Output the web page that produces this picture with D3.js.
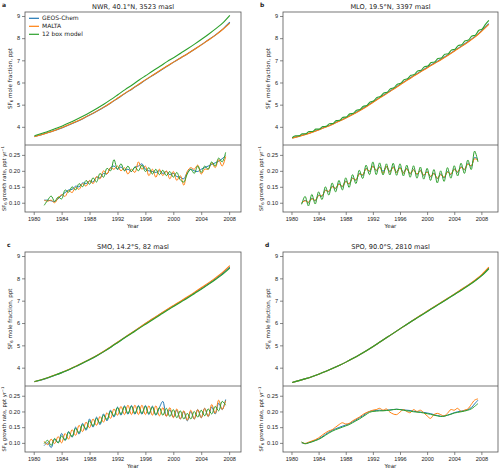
<!DOCTYPE html>
<html><head><meta charset="utf-8">
<script src="https://cdn.jsdelivr.net/npm/d3@7"></script>
<style>body{margin:0;background:#fff}svg{font-family:"DejaVu Sans",sans-serif}</style>
</head><body><svg id="chart" width="500" height="469"></svg>
<script>
// ---------- DATA ----------
const seriesNames = ["GEOS-Chem", "MALTA", "12 box model"];
const seriesColors = ["#1f77b4", "#ff7f0e", "#2ca02c"];
const xTicks = [1980, 1984, 1988, 1992, 1996, 2000, 2004, 2008];
const moleTicks = [4, 5, 6, 7, 8, 9];
const growthTicks = [0.10, 0.15, 0.20, 0.25];

const yearsShort = [1980.1,1981.1,1982.1,1983.1,1984.1,1985.1,1986.1,1987.1,1988.1,1989.1,
  1990.1,1991.1,1992.1,1993.1,1994.1,1995.1,1996.1,1997.1,1998.1,1999.1,
  2000.1,2001.1,2002.1,2003.1,2004.1,2005.1,2006.1,2007.1,2008.1];
const yearsLong = [1980.1,1981.1,1982.1,1983.1,1984.1,1985.1,1986.1,1987.1,1988.1,1989.1,
  1990.1,1991.1,1992.1,1993.1,1994.1,1995.1,1996.1,1997.1,1998.1,1999.1,
  2000.1,2001.1,2002.1,2003.1,2004.1,2005.1,2006.1,2007.1,2008.1,2009.1];
const yearsHalfLong = [1980.1,1980.6,1981.1,1981.6,1982.1,1982.6,1983.1,1983.6,1984.1,1984.6,
  1985.1,1985.6,1986.1,1986.6,1987.1,1987.6,1988.1,1988.6,1989.1,1989.6,
  1990.1,1990.6,1991.1,1991.6,1992.1,1992.6,1993.1,1993.6,1994.1,1994.6,
  1995.1,1995.6,1996.1,1996.6,1997.1,1997.6,1998.1,1998.6,1999.1,1999.6,
  2000.1,2000.6,2001.1,2001.6,2002.1,2002.6,2003.1,2003.6,2004.1,2004.6,
  2005.1,2005.6,2006.1,2006.6,2007.1,2007.6,2008.1,2008.6,2009.1];
const growthYears = [1981.5,1982,1982.5,1983,1983.5,1984,1984.5,1985,1985.5,1986,
  1986.5,1987,1987.5,1988,1988.5,1989,1989.5,1990,1990.5,1991,
  1991.5,1992,1992.5,1993,1993.5,1994,1994.5,1995,1995.5,1996,
  1996.5,1997,1997.5,1998,1998.5,1999,1999.5,2000,2000.5,2001,
  2001.5,2002,2002.5,2003,2003.5,2004,2004.5,2005,2005.5,2006,
  2006.5,2007,2007.5];

// NWR
const nwrMoleGeos = [3.56,3.64,3.74,3.85,3.96,4.09,4.23,4.38,4.54,4.71,4.89,5.09,5.30,5.51,5.71,5.92,6.13,6.33,6.53,6.73,6.93,7.12,7.31,7.51,7.72,7.94,8.16,8.41,8.72];
const nwrMoleMalta = [3.55,3.64,3.74,3.85,3.97,4.10,4.24,4.39,4.55,4.72,4.90,5.10,5.31,5.52,5.72,5.93,6.14,6.34,6.54,6.74,6.93,7.12,7.31,7.51,7.72,7.93,8.15,8.40,8.68];
const nwrMoleBox = [3.60,3.70,3.80,3.92,4.04,4.18,4.33,4.49,4.66,4.84,5.03,5.24,5.46,5.68,5.89,6.11,6.32,6.53,6.73,6.94,7.13,7.33,7.53,7.74,7.96,8.19,8.43,8.69,9.03];
const nwrGrowthGeos = [0.108,0.108,0.106,0.104,0.112,0.124,0.132,0.140,0.142,0.152,
  0.150,0.162,0.160,0.168,0.165,0.180,0.178,0.192,0.190,0.210,
  0.215,0.205,0.212,0.202,0.205,0.198,0.212,0.215,0.222,0.205,
  0.200,0.198,0.195,0.200,0.192,0.198,0.188,0.192,0.182,0.180,
  0.175,0.195,0.205,0.200,0.198,0.205,0.210,0.215,0.220,0.225,
  0.230,0.238,0.248];
const nwrGrowthMalta = [0.108,0.105,0.108,0.100,0.115,0.125,0.120,0.138,0.132,0.148,
  0.142,0.160,0.152,0.170,0.160,0.182,0.175,0.200,0.190,0.210,
  0.205,0.215,0.200,0.210,0.190,0.205,0.195,0.228,0.205,0.215,
  0.185,0.205,0.180,0.205,0.185,0.200,0.175,0.198,0.170,0.185,
  0.155,0.198,0.210,0.205,0.218,0.190,0.205,0.205,0.225,0.210,
  0.235,0.215,0.245];
const nwrGrowthBox = [0.092,0.108,0.121,0.104,0.118,0.112,0.140,0.133,0.150,0.140,
  0.160,0.150,0.170,0.158,0.178,0.165,0.192,0.180,0.208,0.200,
  0.235,0.205,0.222,0.200,0.215,0.198,0.212,0.200,0.218,0.198,
  0.210,0.190,0.205,0.188,0.202,0.185,0.198,0.180,0.195,0.172,
  0.165,0.190,0.205,0.192,0.215,0.195,0.215,0.205,0.228,0.215,
  0.240,0.228,0.258];

// MLO
const mloMoleGeos = [3.50,3.58,3.67,3.77,3.88,4.00,4.13,4.27,4.42,4.58,4.75,4.94,5.14,5.34,5.53,5.73,5.93,6.13,6.32,6.51,6.70,6.88,7.06,7.25,7.45,7.65,7.86,8.08,8.35,8.66];
const mloMoleMalta = [3.49,3.57,3.66,3.76,3.87,3.99,4.12,4.26,4.41,4.57,4.74,4.92,5.12,5.32,5.51,5.71,5.91,6.11,6.30,6.49,6.68,6.86,7.04,7.23,7.43,7.63,7.84,8.06,8.33,8.62];
const mloMoleBox = [3.51,3.60,3.592,3.688,3.684,3.786,3.786,3.894,3.898,4.012,
  4.02,4.14,4.152,4.278,4.294,4.426,4.446,4.584,4.608,4.752,
  4.78,4.93,4.962,5.123,5.164,5.326,5.366,5.524,5.558,5.722,
  5.76,5.925,5.962,6.128,6.164,6.326,6.356,6.519,6.548,6.712,
  6.74,6.90,6.922,7.083,7.104,7.271,7.296,7.469,7.498,7.672,
  7.70,7.88,7.912,8.098,8.134,8.346,8.406,8.619,8.80];
const mloGrowthGeos = [0.098,0.108,0.100,0.114,0.106,0.124,0.120,0.140,0.134,0.152,
  0.144,0.160,0.150,0.168,0.158,0.178,0.170,0.192,0.186,0.208,
  0.198,0.216,0.200,0.213,0.198,0.212,0.198,0.213,0.197,0.211,
  0.195,0.208,0.190,0.205,0.188,0.202,0.185,0.198,0.181,0.193,
  0.175,0.190,0.178,0.198,0.188,0.206,0.195,0.213,0.203,0.223,
  0.214,0.242,0.236];
const mloGrowthMalta = [0.100,0.106,0.102,0.112,0.108,0.122,0.122,0.138,0.136,0.150,
  0.146,0.158,0.152,0.166,0.160,0.176,0.172,0.190,0.188,0.206,
  0.200,0.214,0.202,0.211,0.192,0.214,0.196,0.211,0.195,0.209,
  0.193,0.206,0.192,0.203,0.190,0.200,0.187,0.196,0.183,0.191,
  0.177,0.188,0.180,0.196,0.190,0.204,0.197,0.211,0.205,0.221,
  0.216,0.238,0.232];
const mloGrowthBox = [0.095,0.120,0.090,0.126,0.096,0.134,0.110,0.150,0.124,0.162,
  0.134,0.170,0.140,0.178,0.148,0.188,0.160,0.202,0.176,0.218,
  0.188,0.228,0.188,0.225,0.187,0.222,0.187,0.224,0.186,0.222,
  0.184,0.218,0.180,0.216,0.177,0.212,0.174,0.208,0.170,0.204,
  0.162,0.200,0.167,0.210,0.177,0.216,0.184,0.224,0.192,0.234,
  0.204,0.262,0.228];

// SMO
const smoMoleGeos = [3.37,3.45,3.55,3.67,3.79,3.92,4.06,4.22,4.38,4.55,4.74,4.94,5.15,5.36,5.57,5.78,5.99,6.19,6.39,6.59,6.78,6.97,7.16,7.36,7.56,7.77,7.99,8.23,8.50];
const smoMoleMalta = [3.37,3.46,3.565,3.68,3.80,3.93,4.075,4.23,4.39,4.56,4.745,4.95,5.16,5.37,5.575,5.79,6.00,6.20,6.405,6.61,6.80,6.99,7.185,7.39,7.60,7.81,8.035,8.28,8.57];
const smoMoleBox = [3.38,3.46,3.56,3.67,3.79,3.92,4.07,4.22,4.38,4.55,4.73,4.93,5.14,5.35,5.55,5.76,5.96,6.16,6.36,6.56,6.75,6.94,7.13,7.33,7.53,7.74,7.96,8.19,8.46];
const smoGrowthGeos = [0.092,0.100,0.085,0.112,0.100,0.130,0.108,0.136,0.118,0.150,
  0.128,0.162,0.140,0.176,0.150,0.182,0.158,0.192,0.170,0.204,
  0.182,0.214,0.188,0.218,0.191,0.219,0.191,0.219,0.191,0.219,
  0.190,0.217,0.188,0.212,0.232,0.186,0.205,0.182,0.204,0.176,
  0.200,0.170,0.200,0.176,0.206,0.180,0.210,0.184,0.214,0.192,
  0.226,0.206,0.238];
const smoGrowthMalta = [0.105,0.094,0.112,0.098,0.120,0.100,0.130,0.112,0.142,0.124,
  0.156,0.136,0.166,0.148,0.176,0.156,0.184,0.166,0.196,0.178,
  0.208,0.188,0.216,0.190,0.220,0.190,0.220,0.190,0.220,0.190,
  0.218,0.188,0.218,0.186,0.212,0.184,0.212,0.180,0.208,0.176,
  0.202,0.172,0.204,0.176,0.206,0.180,0.210,0.184,0.222,0.194,
  0.236,0.206,0.234];
const smoGrowthBox = [0.098,0.108,0.092,0.114,0.100,0.122,0.108,0.134,0.120,0.146,
  0.132,0.158,0.144,0.170,0.154,0.178,0.162,0.188,0.174,0.200,
  0.186,0.212,0.192,0.215,0.194,0.216,0.194,0.216,0.194,0.216,
  0.193,0.214,0.190,0.212,0.188,0.210,0.184,0.206,0.180,0.202,
  0.176,0.194,0.176,0.200,0.182,0.204,0.186,0.208,0.192,0.216,
  0.202,0.232,0.220];

// SPO
const spoMoleGeos = [3.34,3.42,3.51,3.61,3.72,3.84,3.97,4.11,4.26,4.42,4.59,4.77,4.96,5.16,5.36,5.56,5.76,5.96,6.16,6.35,6.54,6.73,6.92,7.11,7.30,7.50,7.70,7.91,8.15,8.46];
const spoMoleMalta = [3.34,3.42,3.51,3.61,3.72,3.84,3.97,4.11,4.26,4.42,4.59,4.77,4.96,5.16,5.36,5.56,5.76,5.96,6.16,6.36,6.55,6.74,6.93,7.12,7.31,7.51,7.71,7.93,8.18,8.50];
const spoMoleBox = [3.34,3.42,3.51,3.61,3.72,3.84,3.97,4.11,4.26,4.42,4.59,4.77,4.96,5.16,5.36,5.56,5.76,5.96,6.15,6.34,6.53,6.72,6.91,7.10,7.29,7.48,7.68,7.89,8.13,8.43];
const spoGrowthGeos = [0.100,0.098,0.100,0.104,0.108,0.113,0.119,0.127,0.134,0.140,
  0.145,0.149,0.153,0.157,0.161,0.167,0.173,0.180,0.186,0.194,
  0.200,0.202,0.203,0.204,0.203,0.204,0.205,0.206,0.207,0.206,
  0.205,0.204,0.203,0.201,0.199,0.198,0.197,0.195,0.193,0.190,
  0.187,0.185,0.185,0.188,0.192,0.196,0.199,0.201,0.203,0.206,
  0.212,0.224,0.236];
const spoGrowthMalta = [0.102,0.098,0.102,0.106,0.110,0.116,0.124,0.132,0.138,0.142,
  0.150,0.158,0.164,0.160,0.162,0.170,0.176,0.182,0.190,0.196,
  0.200,0.204,0.206,0.210,0.204,0.208,0.198,0.192,0.190,0.198,
  0.206,0.200,0.196,0.206,0.200,0.204,0.196,0.186,0.178,0.190,
  0.194,0.190,0.186,0.194,0.206,0.204,0.210,0.200,0.204,0.208,
  0.222,0.236,0.240];
const spoGrowthBox = [0.103,0.097,0.100,0.103,0.107,0.111,0.117,0.124,0.131,0.137,
  0.142,0.146,0.150,0.154,0.158,0.164,0.170,0.176,0.183,0.190,
  0.197,0.200,0.201,0.202,0.202,0.203,0.204,0.206,0.207,0.206,
  0.204,0.202,0.201,0.199,0.198,0.197,0.195,0.193,0.191,0.188,
  0.186,0.184,0.185,0.188,0.191,0.195,0.197,0.199,0.201,0.204,
  0.208,0.216,0.225];

const panelTitles = ["NWR, 40.1°N, 3523 masl", "MLO, 19.5°N, 3397 masl", "SMO, 14.2°S, 82 masl", "SPO, 90.0°S, 2810 masl"];
const panelLetters = ["a", "b", "c", "d"];

// ---------- LAYOUT ----------
const layout = [
  {left:25, right:241, top:12, mid:145, bottom:212, xDom:[1978.75,2009.7], letter:[2,7], ylab1:12, ylab2:5.5},
  {left:283, right:498, top:12, mid:145, bottom:212, xDom:[1978.75,2010.45], letter:[260,7], ylab1:270, ylab2:263},
  {left:25, right:241, top:252, mid:386, bottom:452, xDom:[1978.75,2009.7], letter:[7,247], ylab1:12, ylab2:5.5},
  {left:283, right:498, top:252, mid:386, bottom:452, xDom:[1978.75,2010.45], letter:[265,247], ylab1:270, ylab2:263}
];

const panelData = [
  {mole:[[yearsShort,nwrMoleGeos],[yearsShort,nwrMoleMalta],[yearsShort,nwrMoleBox]],
   growth:[nwrGrowthGeos,nwrGrowthMalta,nwrGrowthBox]},
  {mole:[[yearsLong,mloMoleGeos],[yearsLong,mloMoleMalta],[yearsHalfLong,mloMoleBox]],
   growth:[mloGrowthGeos,mloGrowthMalta,mloGrowthBox]},
  {mole:[[yearsShort,smoMoleGeos],[yearsShort,smoMoleMalta],[yearsShort,smoMoleBox]],
   growth:[smoGrowthGeos,smoGrowthMalta,smoGrowthBox]},
  {mole:[[yearsLong,spoMoleGeos],[yearsLong,spoMoleMalta],[yearsLong,spoMoleBox]],
   growth:[spoGrowthGeos,spoGrowthMalta,spoGrowthBox]}
];

const svg = d3.select("#chart");
const axisColor = "#555";
const textColor = "#222";

function styleAxis(g){
  g.select(".domain").remove();
  g.selectAll(".tick line").attr("stroke", axisColor).attr("stroke-width", 0.7);
  g.selectAll(".tick text").attr("fill", textColor).attr("font-size", 5.6);
}

layout.forEach((L, p) => {
  const D = panelData[p];
  const x = d3.scaleLinear().domain(L.xDom).range([L.left, L.right]);
  const yM = d3.scaleLinear().domain([3.18, 9.18]).range([L.mid, L.top]);
  const yG = d3.scaleLinear().domain([0.071, 0.281]).range([L.bottom, L.mid]);
  const g = svg.append("g");

  const lineM = d3.line().x(d => x(d[0])).y(d => yM(d[1])).curve(d3.curveMonotoneX);
  D.mole.forEach((s, i) => {
    const pts = s[1].map((v, k) => [s[0][k], v]);
    g.append("path").attr("d", lineM(pts)).attr("fill", "none")
      .attr("stroke", seriesColors[i]).attr("stroke-width", 1.1);
  });
  const lineG = d3.line().x(d => x(d[0])).y(d => yG(d[1])).curve(d3.curveCatmullRom.alpha(0.5));
  D.growth.forEach((s, i) => {
    const pts = s.map((v, k) => [growthYears[k], v]);
    g.append("path").attr("d", lineG(pts)).attr("fill", "none")
      .attr("stroke", seriesColors[i]).attr("stroke-width", 1.0);
  });

  g.append("rect").attr("x", L.left).attr("y", L.top).attr("width", L.right - L.left)
    .attr("height", L.bottom - L.top).attr("fill", "none").attr("stroke", axisColor).attr("stroke-width", 0.8);
  g.append("line").attr("x1", L.left).attr("x2", L.right).attr("y1", L.mid).attr("y2", L.mid)
    .attr("stroke", axisColor).attr("stroke-width", 0.8);

  g.append("g").attr("transform", `translate(${L.left},0)`)
    .call(d3.axisLeft(yM).tickValues(moleTicks).tickFormat(d3.format("d")).tickSize(3).tickPadding(2)).call(styleAxis);
  g.append("g").attr("transform", `translate(${L.left},0)`)
    .call(d3.axisLeft(yG).tickValues(growthTicks).tickFormat(d3.format(".2f")).tickSize(3).tickPadding(2)).call(styleAxis);
  g.append("g").attr("transform", `translate(0,${L.bottom})`)
    .call(d3.axisBottom(x).tickValues(xTicks).tickFormat(d3.format("d")).tickSize(3).tickPadding(2)).call(styleAxis);

  g.append("text").attr("x", (L.left + L.right) / 2).attr("y", L.top - 3.5)
    .attr("text-anchor", "middle").attr("font-size", 6.6).attr("fill", textColor).text(panelTitles[p]);
  g.append("text").attr("x", L.letter[0]).attr("y", L.letter[1])
    .attr("font-size", 6).attr("font-weight", "bold").attr("fill", textColor).text(panelLetters[p]);
  g.append("text").attr("x", (L.left + L.right) / 2).attr("y", L.bottom + 16)
    .attr("text-anchor", "middle").attr("font-size", 5.6).attr("fill", textColor).text("Year");

  const t1 = g.append("text").attr("transform", `translate(${L.ylab1},${(L.top + L.mid) / 2}) rotate(-90)`)
    .attr("text-anchor", "middle").attr("font-size", 5.6).attr("fill", textColor);
  t1.append("tspan").text("SF");
  t1.append("tspan").attr("font-size", 4).attr("dy", 1.3).text("6");
  t1.append("tspan").attr("dy", -1.3).text(" mole fraction, ppt");

  const t2 = g.append("text").attr("transform", `translate(${L.ylab2},${(L.mid + L.bottom) / 2}) rotate(-90)`)
    .attr("text-anchor", "middle").attr("font-size", 5.2).attr("fill", textColor);
  t2.append("tspan").text("SF");
  t2.append("tspan").attr("font-size", 3.8).attr("dy", 1.2).text("6");
  t2.append("tspan").attr("dy", -1.2).text(" growth rate, ppt yr");
  t2.append("tspan").attr("font-size", 3.8).attr("dy", -2).text("−1");

  if (p === 0) {
    seriesNames.forEach((n, i) => {
      const yy = 18.3 + i * 8;
      g.append("line").attr("x1", 29).attr("x2", 39).attr("y1", yy).attr("y2", yy)
        .attr("stroke", seriesColors[i]).attr("stroke-width", 1.2);
      g.append("text").attr("x", 42).attr("y", yy + 2).attr("font-size", 6)
        .attr("fill", textColor).text(n);
    });
  }
});
</script></body></html>
